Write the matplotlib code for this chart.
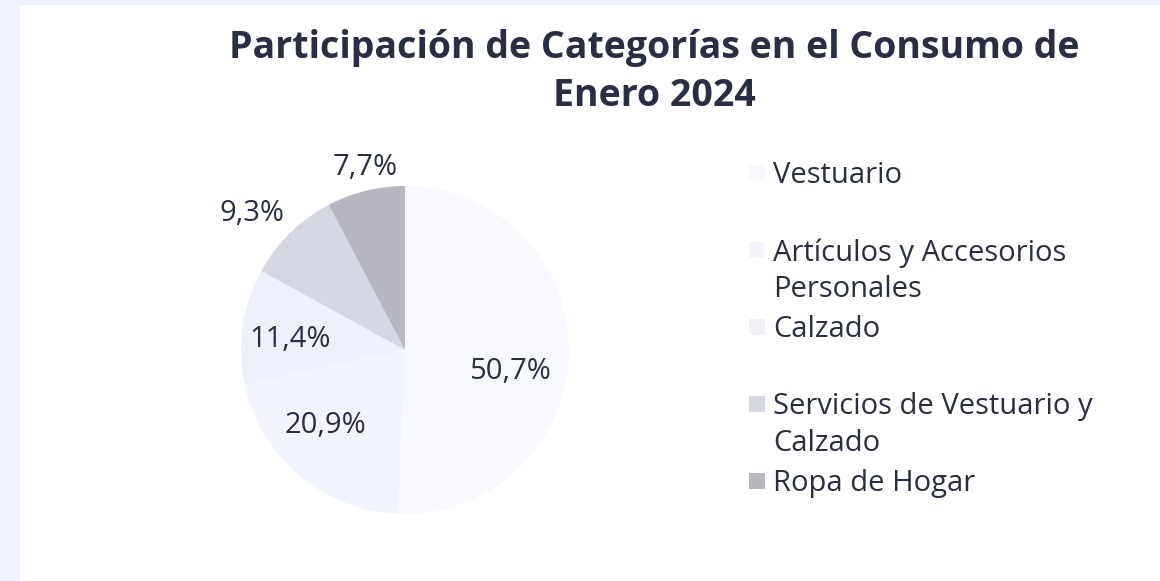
import matplotlib.pyplot as plt
from matplotlib.patches import Rectangle

# Datos del gráfico
categorias = ['Vestuario', 'Artículos y Accesorios\nPersonales', 'Calzado',
              'Servicios de Vestuario y\nCalzado', 'Ropa de Hogar']
participacion = [50.7, 20.9, 11.4, 9.3, 7.7]
colores = ['#F8F9FE', '#F3F5FE', '#EEF0FC', '#D5D7E2', '#B7B7C1']
titulo = 'Participación de Categorías en el Consumo de\nEnero 2024'

# posiciones de las etiquetas (unidades del radio)
pos_etiquetas = [(0.640, -0.134), (-0.482, -0.463), (-0.701, 0.067),
                 (-0.933, 0.835), (-0.244, 1.110)]

texto = '#2A2E45'
plt.rcParams['font.family'] = ['Open Sans', 'DejaVu Sans']

fig = plt.figure(figsize=(11.6, 5.81), dpi=100)
fig.patch.set_facecolor('#F0F3FE')
fig.add_artist(Rectangle((20 / 1160, 0), 1 - 20 / 1160, 1 - 5 / 581,
                         transform=fig.transFigure, facecolor='white',
                         edgecolor='none', zorder=0))

ax = fig.add_axes([241 / 1160, 67 / 581, 328 / 1160, 328 / 581])
cunas, _, autotextos = ax.pie(participacion, colors=colores, startangle=90,
                              counterclock=False, radius=1,
                              autopct=lambda p: f'{p:.1f}%'.replace('.', ','),
                              wedgeprops=dict(linewidth=0))
for t, (x, y) in zip(autotextos, pos_etiquetas):
    t.set_position((x, y))
    t.set_fontsize(21)
    t.set_color(texto)
    t.set_ha('center')
    t.set_va('center')
ax.set_xlim(-1, 1)
ax.set_ylim(-1, 1)
ax.set_aspect('equal')

fig.text(654 / 1160, 1 - 72 / 581, titulo, ha='center', va='center',
         fontsize=27, fontweight='bold', color=texto, linespacing=1.34)

# leyenda manual, cada entrada alineada a su primera línea
y_entradas = [173, 250, 327, 404, 481]
for cat, col, yy in zip(categorias, colores, y_entradas):
    fig.add_artist(Rectangle((749 / 1160, 1 - (yy + 8) / 581), 16 / 1160, 16 / 581,
                             transform=fig.transFigure, facecolor=col,
                             edgecolor='none'))
    fig.text(773 / 1160, 1 - (yy - 12) / 581, cat, ha='left', va='top',
             fontsize=21, color=texto, linespacing=1.36)

fig.savefig('out.png', dpi=100, facecolor=fig.get_facecolor())
